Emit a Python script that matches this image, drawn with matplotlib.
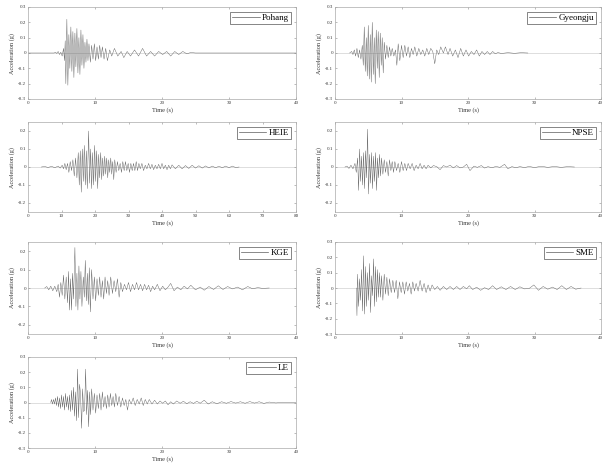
import matplotlib
matplotlib.use("Agg")
import matplotlib.pyplot as plt

plt.rcParams['font.family'] = ['Liberation Serif', 'DejaVu Serif']

# ---------------- data (extrema) ----------------
pohang_t = [0, 3.9, 4.1, 4.3, 4.5, 4.7, 4.9, 5.1, 5.3, 5.45, 5.55, 5.65, 5.8, 5.95, 6.1, 6.25, 6.4, 6.55,
            6.7, 6.85, 7.0, 7.15, 7.3, 7.45, 7.6, 7.75, 7.9, 8.05, 8.2, 8.35, 8.5, 8.65, 8.8, 8.95, 9.1,
            9.3, 9.5, 9.7, 9.9, 10.1, 10.3, 10.5, 10.7, 10.9, 11.1, 11.35, 11.6, 11.85, 12.2, 12.5, 12.9,
            13.4, 13.9, 14.3, 14.8, 15.3, 15.9, 16.5, 17.1, 17.7, 18.3, 18.9, 19.5, 20.1, 20.7, 21.3, 21.9,
            22.5, 23.1, 23.7, 24.3, 25, 40]
pohang_a = [0, 0, 0.005, -0.003, 0.01, -0.01, 0.005, -0.02, 0.03, -0.05, 0.08, -0.20, 0.22, -0.21, 0.12,
            -0.10, 0.17, -0.12, 0.14, -0.16, 0.13, -0.09, 0.16, -0.13, 0.10, -0.14, 0.15, -0.08, 0.12, -0.10,
            0.07, -0.06, 0.09, -0.05, 0.06, -0.06, 0.05, -0.04, 0.06, -0.05, 0.04, -0.04, 0.05, -0.03, 0.04,
            -0.04, 0.03, -0.05, 0.02, -0.02, 0.03, -0.02, 0.01, -0.03, 0.01, -0.02, 0.02, -0.02, 0.03, -0.02,
            0.01, -0.02, 0.01, -0.01, 0.01, -0.02, 0.01, -0.01, 0.01, -0.005, 0.003, 0, 0]

gyeongju_t = [2.2, 2.5, 2.7, 2.9, 3.1, 3.3, 3.5, 3.7, 3.9, 4.1, 4.25, 4.4, 4.55, 4.7, 4.85, 5.0, 5.15, 5.3,
              5.45, 5.6, 5.75, 5.9, 6.05, 6.2, 6.35, 6.5, 6.65, 6.8, 6.95, 7.1, 7.25, 7.4, 7.6, 7.8, 8.0,
              8.2, 8.4, 8.6, 8.85, 9.1, 9.3, 9.5, 9.75, 10.0, 10.25, 10.5, 10.75, 11.0, 11.25, 11.5, 11.75,
              12.0, 12.3, 12.6, 12.9, 13.2, 13.5, 13.8, 14.1, 14.4, 14.7, 15.0, 15.3, 15.6, 15.9, 16.3, 16.6,
              17.0, 17.3, 17.7, 18.1, 18.5, 18.9, 19.3, 19.7, 20.1, 20.5, 20.9, 21.3, 21.7, 22.1, 22.5, 22.9,
              23.3, 23.7, 24.1, 24.5, 25, 26, 27, 28, 29]
gyeongju_a = [0, 0.01, -0.01, 0.02, -0.02, 0.03, -0.03, 0.02, -0.04, 0.05, -0.08, 0.17, -0.12, 0.10, -0.15,
              0.18, -0.17, 0.12, -0.19, 0.20, -0.14, 0.10, -0.20, 0.15, -0.10, 0.14, -0.16, 0.13, -0.08, 0.10,
              -0.13, 0.07, -0.04, 0.05, -0.03, 0.04, -0.02, 0.03, -0.02, 0.02, -0.08, 0.06, -0.05, 0.05, -0.03,
              0.05, -0.02, 0.04, -0.03, 0.03, -0.01, 0.04, -0.02, 0.03, -0.01, 0.02, -0.02, 0.03, -0.01, 0.03,
              0.01, -0.07, 0.02, -0.01, 0.04, 0.0, 0.04, -0.01, 0.03, -0.02, 0.02, -0.03, 0.03, -0.02, 0.02,
              -0.02, 0.01, -0.01, 0.02, -0.02, 0.01, -0.01, 0.01, -0.01, 0.01, -0.005, 0.003, -0.003, 0.002,
              -0.002, 0.002, 0]

heie_t = [4, 5, 6, 7, 8, 9, 9.6, 10.2, 10.6, 11.0, 11.4, 11.8, 12.2, 12.6, 13.0, 13.4, 13.8, 14.2, 14.6,
          15.0, 15.3, 15.6, 15.9, 16.2, 16.5, 16.8, 17.1, 17.4, 17.7, 18.1, 18.4, 18.7, 19.0, 19.3, 19.6,
          19.9, 20.2, 20.5, 20.8, 21.1, 21.4, 21.7, 22.0, 22.3, 22.6, 22.9, 23.2, 23.5, 23.8, 24.1, 24.4,
          24.7, 25.0, 25.3, 25.6, 25.9, 26.3, 26.7, 27.1, 27.5, 27.9, 28.3, 28.7, 29.1, 29.5, 29.9, 30.3,
          30.7, 31.1, 31.5, 31.9, 32.3, 32.7, 33.1, 33.5, 34, 34.5, 35, 35.5, 36, 36.5, 37, 37.5, 38, 38.5,
          39, 39.5, 40, 40.5, 41, 41.5, 42, 42.5, 43, 44, 45, 46, 47, 48, 49, 50, 51, 52, 53, 54, 55, 56,
          57, 58, 59, 60, 61, 62, 63]
heie_a = [0, 0.003, -0.003, 0.004, -0.004, 0.005, -0.006, 0.01, -0.01, 0.02, -0.015, 0.02, -0.03, 0.03,
          -0.02, 0.04, -0.05, 0.05, -0.06, 0.08, -0.10, 0.09, -0.14, 0.10, -0.08, 0.12, -0.10, 0.09, -0.12,
          0.20, -0.09, 0.10, -0.12, 0.08, -0.10, 0.12, -0.08, 0.09, -0.12, 0.07, -0.06, 0.08, -0.07, 0.05,
          -0.05, 0.06, -0.04, 0.05, -0.06, 0.04, -0.03, 0.05, -0.04, 0.03, -0.07, 0.04, -0.03, 0.03, -0.02,
          0.02, -0.03, 0.03, -0.02, 0.03, -0.02, 0.02, -0.03, 0.02, -0.02, 0.02, -0.02, 0.03, -0.02, 0.02,
          -0.01, 0.02, -0.02, 0.01, -0.01, 0.02, -0.01, 0.015, -0.015, 0.01, -0.01, 0.015, -0.01, 0.02,
          -0.01, 0.01, -0.015, 0.01, -0.01, 0.012, -0.01, 0.01, -0.01, 0.008, -0.008, 0.01, -0.006, 0.007,
          -0.006, 0.006, -0.005, 0.005, -0.004, 0.004, -0.004, 0.005, -0.004, 0.005, -0.003, 0]

npse_t = [1.5, 1.8, 2.1, 2.4, 2.7, 3.0, 3.2, 3.4, 3.55, 3.7, 3.85, 4.0, 4.15, 4.3, 4.45, 4.6, 4.75, 4.9,
          5.05, 5.2, 5.35, 5.5, 5.65, 5.8, 5.95, 6.1, 6.25, 6.4, 6.55, 6.7, 6.85, 7.0, 7.2, 7.4, 7.6, 7.8,
          8.0, 8.2, 8.4, 8.6, 8.8, 9.0, 9.25, 9.5, 9.75, 10.0, 10.25, 10.5, 10.75, 11.0, 11.3, 11.6, 11.9,
          12.2, 12.5, 12.8, 13.1, 13.4, 13.7, 14.0, 14.4, 14.8, 15.3, 15.8, 16.3, 16.8, 17.3, 17.8, 18.3,
          18.8, 19.3, 19.8, 20.3, 20.9, 21.4, 22, 22.5, 23, 23.6, 24.2, 24.8, 25.5, 26, 26.6, 27.2, 27.8,
          28.5, 29.2, 30, 31, 32, 33, 34, 35, 36]
npse_a = [0, 0.005, -0.008, 0.01, -0.01, 0.02, -0.03, 0.05, -0.13, 0.10, -0.08, 0.06, -0.10, 0.08, -0.12,
          0.09, -0.06, 0.21, -0.15, 0.07, -0.09, 0.08, -0.12, 0.06, -0.08, 0.08, -0.13, 0.05, -0.06, 0.07,
          -0.05, 0.05, -0.04, 0.04, -0.03, 0.03, -0.05, 0.04, -0.02, 0.03, -0.03, 0.03, -0.02, 0.02, -0.03,
          0.03, -0.02, 0.02, -0.02, 0.02, -0.01, 0.02, -0.02, 0.01, -0.01, 0.02, -0.01, 0.01, -0.01, 0.01,
          -0.005, 0.008, 0.002, -0.015, 0.008, 0.0, 0.01, -0.005, 0.008, -0.005, 0.0, 0.015, -0.02, 0.005,
          -0.002, 0.008, -0.006, 0.002, -0.004, 0.003, -0.002, 0.015, -0.01, 0.002, -0.004, 0.002, -0.003,
          0.003, -0.003, 0.004, -0.002, 0.003, -0.002, 0.002, 0]

kge_t = [2.5, 2.8, 3.1, 3.4, 3.7, 4.0, 4.3, 4.5, 4.7, 4.9, 5.1, 5.3, 5.5, 5.7, 5.9, 6.05, 6.2, 6.35, 6.5,
         6.65, 6.8, 7.0, 7.15, 7.3, 7.45, 7.6, 7.75, 7.9, 8.05, 8.25, 8.4, 8.55, 8.7, 8.85, 9.0, 9.15, 9.3,
         9.5, 9.7, 9.9, 10.1, 10.3, 10.5, 10.7, 10.9, 11.1, 11.3, 11.5, 11.7, 11.9, 12.1, 12.35, 12.6, 12.85,
         13.1, 13.35, 13.6, 13.85, 14.1, 14.4, 14.7, 15.0, 15.3, 15.6, 15.9, 16.2, 16.5, 16.8, 17.1, 17.4,
         17.7, 18.0, 18.3, 18.6, 18.9, 19.3, 19.7, 20.1, 20.5, 20.9, 21.3, 21.8, 22.3, 22.8, 23.3, 23.8,
         24.3, 25.0, 25.7, 26.3, 27.0, 27.7, 28.4, 29.1, 29.8, 30.5, 31.3, 32.0, 32.8, 33.5, 34.3, 35, 36]
kge_a = [0, 0.008, -0.01, 0.01, -0.015, 0.01, -0.02, 0.02, -0.05, 0.03, -0.04, 0.07, -0.06, 0.06, -0.08,
         0.09, -0.12, 0.05, -0.12, 0.08, -0.06, 0.22, -0.10, 0.08, -0.12, 0.12, -0.06, 0.09, -0.10, 0.06,
         -0.05, 0.15, -0.07, 0.08, -0.09, 0.11, -0.13, 0.10, -0.06, 0.06, -0.07, 0.05, -0.04, 0.06, -0.05,
         0.04, -0.06, 0.06, -0.03, 0.04, -0.04, 0.06, -0.03, 0.04, -0.02, 0.05, -0.05, 0.03, -0.02, 0.02,
         -0.01, 0.03, -0.02, 0.02, -0.01, 0.03, -0.01, 0.02, -0.015, 0.02, -0.01, 0.015, -0.02, 0.01,
         -0.01, 0.02, -0.015, 0.01, -0.01, 0.005, 0.025, -0.015, 0.005, -0.01, 0.01, -0.005, 0.015, -0.01,
         0.005, -0.012, 0.008, -0.008, 0.012, -0.008, 0.008, -0.005, 0.005, -0.01, 0.008, -0.004, 0.002,
         -0.002, 0]

sme_t = [3.2, 3.3, 3.4, 3.55, 3.7, 3.85, 4.0, 4.15, 4.3, 4.45, 4.6, 4.75, 4.9, 5.05, 5.2, 5.35, 5.5, 5.65,
         5.8, 5.95, 6.1, 6.25, 6.4, 6.55, 6.7, 6.85, 7.0, 7.2, 7.4, 7.6, 7.8, 8.0, 8.2, 8.45, 8.7, 8.95, 9.2,
         9.45, 9.7, 9.95, 10.2, 10.45, 10.7, 10.95, 11.2, 11.45, 11.7, 11.95, 12.2, 12.5, 12.8, 13.1, 13.4,
         13.7, 14.0, 14.3, 14.6, 15.0, 15.4, 15.8, 16.3, 16.8, 17.3, 17.8, 18.3, 18.8, 19.3, 19.8, 20.2,
         20.7, 21.3, 21.9, 22.5, 23.1, 23.7, 24.3, 25.0, 25.7, 26.4, 27.1, 27.8, 28.5, 29.2, 29.9, 30.6,
         31.3, 32.0, 32.7, 33.4, 34.1, 34.8, 35.5, 36.2, 37]
sme_a = [0, -0.18, 0.09, -0.12, 0.06, -0.08, 0.12, -0.15, 0.21, -0.17, 0.14, -0.12, 0.10, -0.08, 0.16,
         -0.16, 0.08, -0.05, 0.19, -0.12, 0.14, -0.09, 0.12, -0.06, 0.10, -0.06, 0.08, -0.08, 0.09, -0.04,
         0.07, -0.05, 0.06, -0.03, 0.05, -0.03, 0.05, -0.07, 0.04, -0.03, 0.04, -0.04, 0.04, -0.02, 0.03,
         -0.04, 0.04, -0.02, 0.03, -0.02, 0.05, -0.02, 0.03, -0.03, 0.02, -0.02, 0.02, -0.01, 0.01, -0.015,
         0.01, -0.01, 0.01, -0.01, 0.01, -0.01, 0.01, -0.005, 0.015, -0.01, 0.005, -0.015, 0.002, -0.01,
         0.015, -0.01, 0.008, -0.01, 0.01, -0.01, 0.008, -0.006, -0.003, 0.02, -0.015, 0.01, -0.008, 0.006,
         -0.01, 0.015, -0.01, 0.01, -0.008, 0]

le_t = [3.4, 3.5, 3.65, 3.8, 3.95, 4.1, 4.25, 4.4, 4.55, 4.7, 4.85, 5.0, 5.15, 5.3, 5.45, 5.6, 5.75, 5.9,
        6.05, 6.2, 6.35, 6.5, 6.65, 6.8, 6.95, 7.1, 7.25, 7.4, 7.55, 7.7, 7.85, 8.0, 8.15, 8.3, 8.45, 8.6,
        8.75, 8.9, 9.05, 9.2, 9.35, 9.5, 9.7, 9.9, 10.1, 10.3, 10.5, 10.7, 10.9, 11.1, 11.3, 11.5, 11.7,
        11.9, 12.1, 12.3, 12.5, 12.7, 12.9, 13.1, 13.35, 13.6, 13.85, 14.1, 14.35, 14.6, 14.85, 15.1, 15.4,
        15.7, 16.0, 16.3, 16.6, 16.9, 17.2, 17.5, 17.8, 18.1, 18.5, 18.9, 19.3, 19.7, 20.1, 20.5, 20.9,
        21.3, 21.7, 22.2, 22.7, 23.2, 23.7, 24.2, 24.7, 25.2, 25.7, 26.3, 26.9, 27.5, 28.2, 28.9, 29.6,
        30.3, 31.0, 31.7, 32.4, 33.1, 33.8, 34.5, 35.2, 36, 37, 38, 39, 40]
le_a = [0, 0.02, -0.01, 0.02, -0.01, 0.03, -0.02, 0.04, -0.03, 0.03, -0.04, 0.05, -0.03, 0.04, -0.05, 0.06,
        -0.03, 0.04, -0.05, 0.05, -0.06, 0.08, -0.05, 0.10, -0.09, 0.07, -0.12, 0.22, -0.10, 0.12, 0.05,
        -0.17, 0.09, -0.06, -0.05, 0.22, -0.08, 0.08, -0.16, 0.07, -0.08, 0.09, -0.05, 0.06, -0.07, 0.05,
        -0.04, 0.06, -0.05, 0.07, -0.03, 0.04, -0.04, 0.05, -0.03, 0.06, -0.02, 0.04, -0.03, 0.06, -0.02,
        0.04, -0.03, 0.03, -0.02, 0.02, -0.05, 0.02, -0.01, 0.03, -0.02, 0.02, -0.01, 0.03, -0.02, 0.02,
        -0.01, 0.02, -0.01, 0.015, -0.01, 0.01, -0.005, 0.01, -0.015, 0.005, -0.01, 0.01, -0.005, 0.008,
        -0.008, 0.005, -0.006, 0.008, -0.005, 0.015, -0.01, 0.005, -0.008, 0.005, -0.005, 0.006, -0.004,
        0.005, -0.005, 0.006, -0.004, 0.005, -0.006, 0.003, -0.003, 0.002, 0, 0]

records = [
    ("Pohang", pohang_t, pohang_a, 40, 0.3),
    ("Gyeongju", gyeongju_t, gyeongju_a, 40, 0.3),
    ("HEIE", heie_t, heie_a, 80, 0.25),
    ("NPSE", npse_t, npse_a, 40, 0.25),
    ("KGE", kge_t, kge_a, 40, 0.25),
    ("SME", sme_t, sme_a, 40, 0.3),
    ("LE", le_t, le_a, 40, 0.3),
]

# ---------------- layout ----------------
W, H = 610, 471
fig = plt.figure(figsize=(W / 100, H / 100), dpi=100)

cols = [(28, 296), (335, 601)]
rows = [(7, 99), (122, 212), (242, 334), (357, 448)]

for i, (name, t, a, xmax, ylim) in enumerate(records):
    r, c = divmod(i, 2)
    x0, x1 = cols[c]
    y0, y1 = rows[r]
    ax = fig.add_axes([x0 / W, 1 - y1 / H, (x1 - x0) / W, (y1 - y0) / H])
    ax.axhline(0, color='#d0d0d0', lw=0.5, zorder=0)
    ax.plot(t, a, color='#5a5a5a', lw=0.3, label=name)
    ax.set_xlim(0, xmax)
    ax.set_ylim(-ylim, ylim)
    ax.set_xticks(range(0, xmax + 1, 10))
    if ylim == 0.3:
        yt = [-0.3, -0.2, -0.1, 0, 0.1, 0.2, 0.3]
    else:
        yt = [-0.2, -0.1, 0, 0.1, 0.2]
    ax.set_yticks(yt)
    ax.set_yticklabels(['0' if v == 0 else f'{v:.1f}' for v in yt])
    ax.tick_params(direction='in', length=1.5, width=0.4, labelsize=3.6, pad=1.5,
                   top=True, right=True, colors='#888888', labelcolor='#333333')
    for s in ax.spines.values():
        s.set_color('#aaaaaa')
        s.set_linewidth(0.5)
    ax.set_xlabel('Time (s)', fontsize=4.5, labelpad=1.5, color='#333333')
    ax.set_ylabel('Acceleration (g)', fontsize=4.5, labelpad=2, color='#333333')
    leg = ax.legend(loc='upper right', fontsize=6.5, handlelength=3.0, handletextpad=0.3,
                    borderpad=0.25, borderaxespad=0.5, fancybox=False, framealpha=1)
    leg.get_frame().set_edgecolor('#555555')
    leg.get_frame().set_linewidth(0.5)
    for ln in leg.get_lines():
        ln.set_linewidth(0.5)

fig.savefig('out.png', dpi=100)
